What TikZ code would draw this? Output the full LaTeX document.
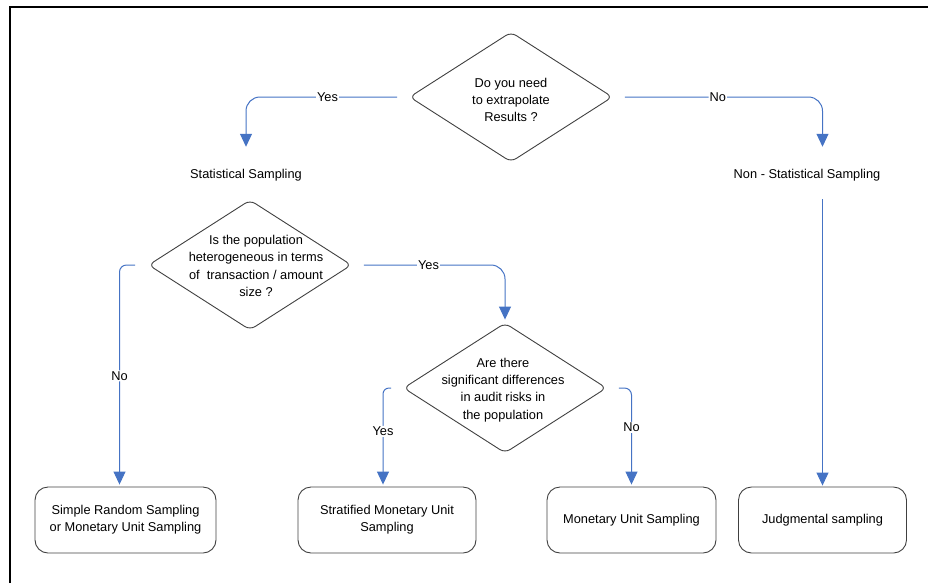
\documentclass[tikz,border=0pt]{standalone}
\usepackage{fontspec}
\setmainfont{Liberation Sans}
\usetikzlibrary{shapes.geometric,arrows.meta}
\newlength{\du}
\setlength{\du}{0.75pt}
\definecolor{dialinecolor}{rgb}{0.250000, 0.250000, 0.250000}
\definecolor{diaflowcolor}{rgb}{0.270000, 0.450000, 0.770000}
\newcommand{\flowfont}{\fontsize{9.6}{13}\selectfont}
\tikzset{
  decision/.style={diamond,draw=dialinecolor,line width=0.9\du,rounded corners=6\du,
    minimum width=203\du,minimum height=130\du,inner sep=0pt},
  decisiontext/.style={align=center,inner sep=0pt,font=\flowfont},
  outcome/.style={rectangle,draw=dialinecolor,line width=0.9\du,rounded corners=13\du,
    minimum height=66\du,align=center,font=\flowfont},
  heading/.style={inner sep=0pt,font=\flowfont},
  flowline/.style={draw=diaflowcolor,line width=1\du,rounded corners=14\du,
    -{Triangle[length=9.75pt,width=9pt]}},
  flowlabel/.style={fill=white,inner sep=1\du,font=\flowfont},
}
\begin{document}
\begin{tikzpicture}
\pgftransformxscale{1.000000}
\pgftransformyscale{-1.000000}
\useasboundingbox (0\du,0\du) rectangle (928\du,583\du);
% frame
\draw[line width=2.5\du] (10\du,583\du)--(10\du,7\du)--(928\du,7\du);
% questions
\node[decision] (q1) at (511\du,97\du) {};
\node[decisiontext] (q1txt) at (511\du,100\du) {Do you need\\to extrapolate\\Results ?};
\node[decision] (q2) at (250\du,265\du) {};
\node[decisiontext] (q2txt) at (256\du,266\du) {Is the population\\heterogeneous in terms\\of\ \ transaction / amount\\size ?};
\node[decision] (q3) at (505\du,388\du) {};
\node[decisiontext] (q3txt) at (503\du,390\du) {Are there\\significant differences\\in audit risks in\\the population};
% headings
\node[heading] (stat) at (246\du,175\du) {Statistical Sampling};
\node[heading] (nonstat) at (807\du,175\du) {Non - Statistical Sampling};
% outcomes
\node[outcome,minimum width=181\du] (simple) at (125.5\du,520\du) {Simple Random Sampling\\or Monetary Unit Sampling};
\node[outcome,minimum width=178\du] (strat) at (387\du,520\du) {Stratified Monetary Unit\\Sampling};
\node[outcome,minimum width=169\du] (mus) at (631.5\du,520\du) {Monetary Unit Sampling};
\node[outcome,minimum width=168\du] (judg) at (822.5\du,520\du) {Judgmental sampling};
% connectors
\draw[flowline,shorten <=12\du,shorten >=22\du] (q1.west) -| (stat.north) node[flowlabel,pos=0.25] {Yes};
\draw[flowline,shorten <=12\du,shorten >=22\du] (q1.east) -| (judg.north |- nonstat.north) node[flowlabel,pos=0.25] {No};
\draw[flowline,shorten <=18\du,shorten >=1\du] (judg.north |- nonstat.south) -- (judg.north);
\draw[flowline,rounded corners=7\du,shorten <=13\du,shorten >=2\du] (q2.west) -| ([xshift=-6\du]simple.north) node[flowlabel,pos=0.75] {No};
\draw[flowline,shorten <=12\du,shorten >=3\du] (q2.east) -| (q3.north) node[flowlabel,pos=0.25] {Yes};
\draw[flowline,rounded corners=6\du,shorten <=12\du,shorten >=2\du] (q3.west) -| ([xshift=-4\du]strat.north) node[flowlabel,pos=0.72] {Yes};
\draw[flowline,rounded corners=7\du,shorten <=12\du,shorten >=2\du] (q3.east) -| (mus.north) node[flowlabel,pos=0.7] {No};
\end{tikzpicture}
\end{document}
